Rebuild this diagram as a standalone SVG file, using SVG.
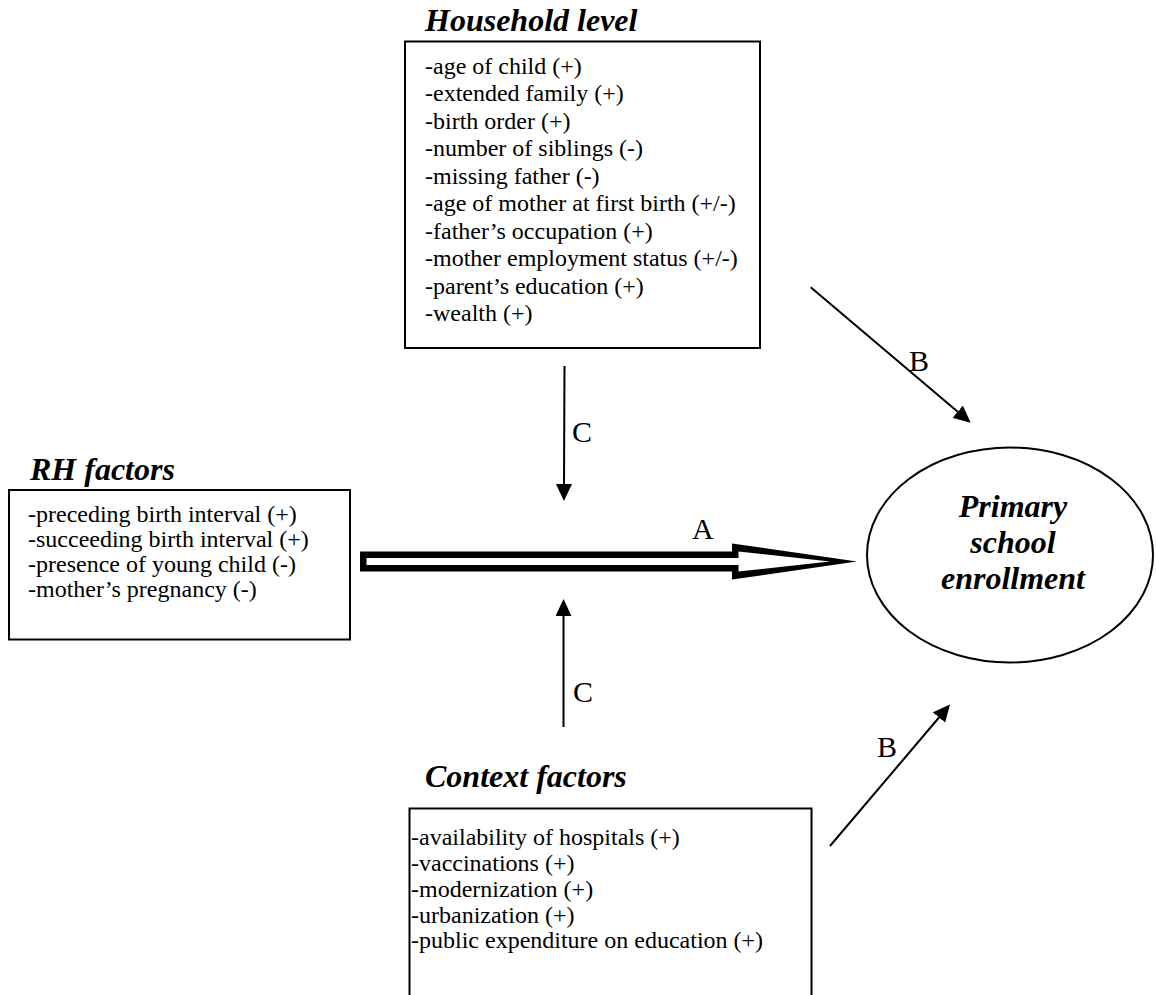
<svg xmlns="http://www.w3.org/2000/svg" width="1156" height="995" viewBox="0 0 1156 995">
<style>
.box{fill:#fff;stroke:#000;stroke-width:2}
.title{font-family:"Liberation Serif","Times New Roman",serif;font-size:32px;font-weight:bold;font-style:italic;fill:#000}
.body{font-family:"Liberation Serif","Times New Roman",serif;font-size:24px;fill:#000}
.lbl{font-family:"Liberation Serif","Times New Roman",serif;font-size:30px;fill:#000}
.conn{stroke:#000;stroke-width:2;fill:none}
</style>
<defs>
<marker id="ah" markerUnits="userSpaceOnUse" markerWidth="17" markerHeight="16" refX="0" refY="8" orient="auto">
<path d="M0,0 L17,8 L0,16 z" fill="#000"/>
</marker>
</defs>
<rect width="1156" height="995" fill="#fff"/>

<g id="household">
<text class="title" x="425" y="31">Household level</text>
<rect class="box" x="405" y="41.5" width="355" height="306.5"/>
<text class="body" x="425" y="73.5">-age of child (+)</text>
<text class="body" x="425" y="101">-extended family (+)</text>
<text class="body" x="425" y="128.5">-birth order (+)</text>
<text class="body" x="425" y="156">-number of siblings (-)</text>
<text class="body" x="425" y="183.5">-missing father (-)</text>
<text class="body" x="425" y="211">-age of mother at first birth (+/-)</text>
<text class="body" x="425" y="238.5">-father’s occupation (+)</text>
<text class="body" x="425" y="266">-mother employment status (+/-)</text>
<text class="body" x="425" y="293.5">-parent’s education (+)</text>
<text class="body" x="425" y="321">-wealth (+)</text>
</g>

<g id="rh">
<text class="title" x="30" y="479.5">RH factors</text>
<rect class="box" x="9" y="490" width="341" height="149.5"/>
<text class="body" x="28" y="522">-preceding birth interval (+)</text>
<text class="body" x="28" y="547">-succeeding birth interval (+)</text>
<text class="body" x="28" y="572">-presence of young child (-)</text>
<text class="body" x="28" y="597">-mother’s pregnancy (-)</text>
</g>

<g id="context">
<text class="title" x="425" y="787">Context factors</text>
<rect class="box" x="409.5" y="808.5" width="402" height="200"/>
<text class="body" x="411" y="845">-availability of hospitals (+)</text>
<text class="body" x="411" y="871">-vaccinations (+)</text>
<text class="body" x="411" y="896.5">-modernization (+)</text>
<text class="body" x="411" y="922.5">-urbanization (+)</text>
<text class="body" x="411" y="948">-public expenditure on education (+)</text>
</g>

<g id="outcome">
<ellipse cx="1010" cy="555" rx="143" ry="107.5" fill="#fff" stroke="#000" stroke-width="2"/>
<text class="title" x="1013" y="517" text-anchor="middle">Primary</text>
<text class="title" x="1013" y="552.5" text-anchor="middle">school</text>
<text class="title" x="1013" y="588.5" text-anchor="middle">enrollment</text>
</g>

<g id="connectors">
<polygon points="360,551.5 732,551.5 732,543.5 857,561.5 732,579.5 732,571.5 360,571.5" fill="#000"/>
<polygon points="366.5,558 738.5,558 738.5,551.5 830,561.5 738.5,571.5 738.5,565 366.5,565" fill="#fff"/>
<text class="lbl" x="692" y="539">A</text>

<line class="conn" x1="810.7" y1="287.3" x2="957.7" y2="411.7" marker-end="url(#ah)"/>
<text class="lbl" x="909" y="371">B</text>

<line class="conn" x1="830" y1="846" x2="939" y2="717.5" marker-end="url(#ah)"/>
<text class="lbl" x="877" y="756.5">B</text>

<line class="conn" x1="564.5" y1="366" x2="564" y2="484" marker-end="url(#ah)"/>
<text class="lbl" x="572" y="441.5">C</text>

<line class="conn" x1="563.5" y1="727" x2="563.5" y2="616" marker-end="url(#ah)"/>
<text class="lbl" x="573" y="701.5">C</text>
</g>
</svg>
